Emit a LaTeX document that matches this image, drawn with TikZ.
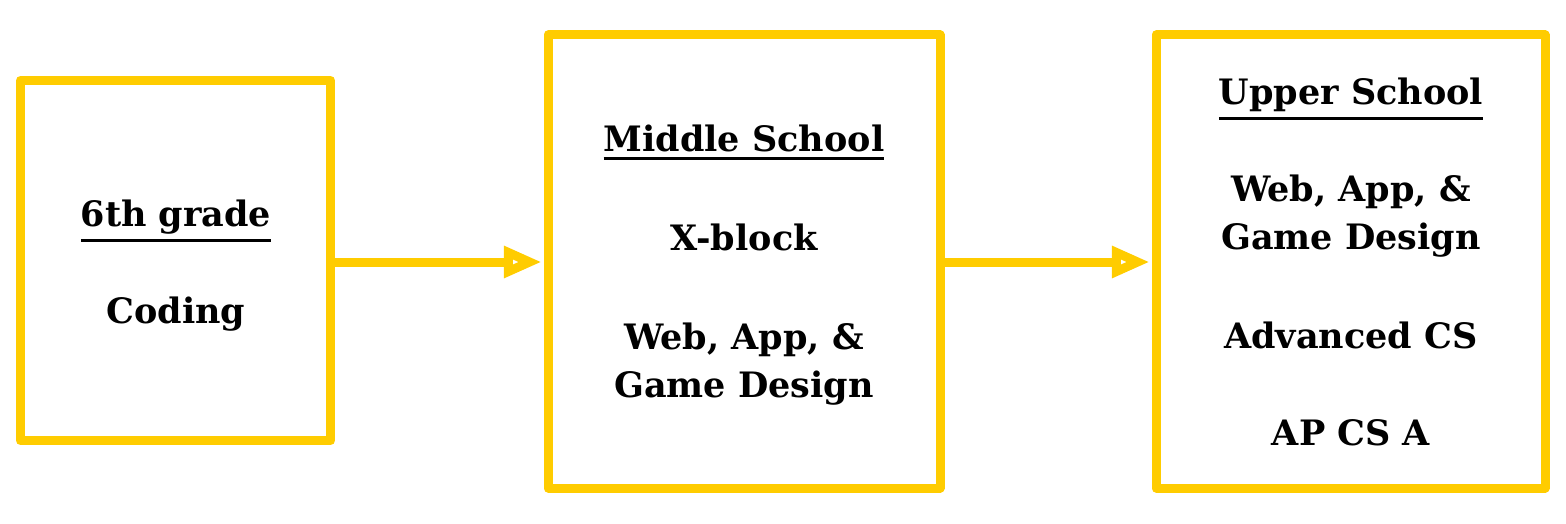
\documentclass[tikz,border=0pt]{standalone}
\usepackage{fontspec}
\setmainfont{DejaVu Serif}
\usetikzlibrary{arrows.meta}
\definecolor{gold}{RGB}{255,204,0}
% underlined heading with a thicker rule
\newcommand\headline[1]{\vtop{\hbox{#1}\kern5pt\hrule height 3pt}}
\tikzset{
  stage/.style={draw=gold, line width=9pt, line join=round, fill=none},
  label/.style={font=\bfseries\fontsize{35}{42}\selectfont, text=black, anchor=base},
  flow/.style={draw=gold, line width=9pt, -{Triangle[open, length=38pt 0 0, width=30pt 0 0, line width=9pt]}}
}
\begin{document}
\begin{tikzpicture}[x=1pt, y=-1pt]
  \useasboundingbox (0,0) rectangle (1566,524);
  % the three stage boxes
  \draw[stage] (20.5,80.5) rectangle (330.5,440.5);
  \node[inner sep=0, minimum width=310pt, minimum height=360pt] (six) at (175.5,260.5) {};
  \draw[stage] (548,35) rectangle (940,488);
  \node[inner sep=0, minimum width=392pt, minimum height=453pt] (mid) at (744,261.5) {};
  \draw[stage] (1156,35) rectangle (1545,488);
  \node[inner sep=0, minimum width=389pt, minimum height=453pt] (up) at (1350.5,261.5) {};

  % arrows between the stages
  \coordinate (a1) at (six.east |- 0,262);
  \coordinate (b1) at (mid.west |- 0,262);
  \coordinate (a2) at (mid.east |- 0,262);
  \coordinate (b2) at (up.west |- 0,262);
  \draw[flow] (a1) -- ([xshift=-6pt]b1);
  \draw[flow] (a2) -- ([xshift=-6pt]b2);

  % 6th grade
  \node[label] (t1) at (176,226) {\headline{6th grade}};
  \node[label] (t2) at (176,323) {Coding};
  % middle school
  \node[label] (m1) at (744,152) {\headline{Middle School}};
  \node[label] (m2) at (744,250) {X-block};
  \node[label] (m3) at (744,349) {Web, App, \&};
  \node[label] (m4) at (744,397) {Game Design};
  % upper school
  \node[label] (u1) at (1351,105) {\headline{Upper School}};
  \node[label] (u2) at (1351,201) {Web, App, \&};
  \node[label] (u3) at (1351,249) {Game Design};
  \node[label] (u4) at (1351,348) {Advanced CS};
  \node[label] (u5) at (1351,445) {AP CS A};
\end{tikzpicture}
\end{document}
